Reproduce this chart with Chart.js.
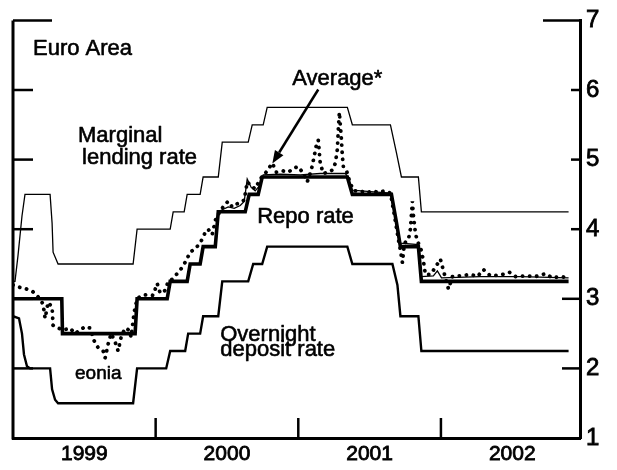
<!DOCTYPE html>
<html><head><meta charset="utf-8">
<script src="https://cdn.jsdelivr.net/npm/chart.js@4.4.0/dist/chart.umd.min.js"></script>
<style>html,body{margin:0;padding:0;background:#fff;}canvas{display:block}</style>
</head><body>
<canvas id="c" width="617" height="470"></canvas>
<script>
// ---- data (time in decimal years, rates in %) ----
const yearLabels = ['1999','2000','2001','2002'];
const rateTicks = [1,2,3,4,5,6,7];

const marginalT = [1999.000,1999.014,1999.035,1999.063,1999.084,1999.260,1999.274,1999.281,1999.316,1999.842,1999.870,2000.102,2000.123,2000.200,2000.221,2000.312,2000.333,2000.439,2000.467,2000.649,2000.677,2000.754,2000.782,2001.344,2001.379,2001.646,2001.688,2001.723,2001.842,2001.863,2002.895];
const marginalV = [3.25,3.25,3.62,4.19,4.50,4.50,4.09,3.67,3.50,3.50,4.00,4.00,4.25,4.25,4.50,4.50,4.75,4.75,5.25,5.25,5.50,5.50,5.75,5.75,5.50,5.50,5.10,4.75,4.75,4.25,4.25];

const depositT = [1999.000,1999.042,1999.063,1999.077,1999.098,1999.120,1999.260,1999.274,1999.295,1999.316,1999.842,1999.870,2000.074,2000.102,2000.207,2000.228,2000.312,2000.333,2000.439,2000.467,2000.649,2000.684,2000.747,2000.782,2001.344,2001.379,2001.660,2001.695,2001.716,2001.842,2001.863,2002.895];
const depositV = [2.75,2.72,2.50,2.20,2.03,2.00,2.00,1.70,1.55,1.50,1.50,2.00,2.00,2.25,2.25,2.50,2.50,2.75,2.75,3.25,3.25,3.50,3.50,3.75,3.75,3.50,3.50,3.20,2.75,2.75,2.25,2.25];

const repoT = [1999.000,1999.342,1999.347,1999.856,1999.870,2000.081,2000.102,2000.221,2000.242,2000.312,2000.333,2000.418,2000.439,2000.628,2000.656,2000.719,2000.747,2001.344,2001.379,2001.653,2001.688,2001.716,2001.842,2001.863,2002.895];
const repoV = [3.00,3.00,2.50,2.50,3.00,3.00,3.25,3.25,3.50,3.50,3.75,3.75,4.25,4.25,4.50,4.50,4.75,4.75,4.50,4.50,4.10,3.75,3.75,3.25,3.25];

const averageT = [2000.439,2000.467,2000.509,2000.551,2000.593,2000.621,2000.642,2000.670,2000.698,2000.726,2000.754,2000.874,2001.014,2001.154,2001.330,2001.351,2001.379,2001.505,2001.646,2001.681,2001.716,2001.842,2001.863,2001.947,2001.975,2002.004,2002.277,2002.558,2002.895];
const averageV = [4.25,4.28,4.32,4.30,4.34,4.40,4.72,4.60,4.55,4.62,4.78,4.79,4.78,4.80,4.80,4.74,4.56,4.54,4.52,4.15,3.80,3.78,3.32,3.33,3.40,3.30,3.32,3.32,3.30];

const eoniaT = [1999.000,1999.035,1999.084,1999.140,1999.189,1999.211,1999.225,1999.246,1999.274,1999.281,1999.316,1999.351,1999.400,1999.435,1999.470,1999.505,1999.540,1999.568,1999.596,1999.632,1999.646,1999.667,1999.688,1999.716,1999.737,1999.758,1999.786,1999.814,1999.828,1999.849,1999.870,1999.905,1999.947,1999.982,2000.011,2000.032,2000.067,2000.088,2000.116,2000.158,2000.186,2000.214,2000.242,2000.277,2000.312,2000.347,2000.368,2000.396,2000.425,2000.453,2000.481,2000.509,2000.537,2000.565,2000.593,2000.621,2000.642,2000.670,2000.698,2000.733,2000.775,2000.818,2000.846,2000.888,2000.930,2000.972,2001.000,2001.035,2001.063,2001.091,2001.112,2001.126,2001.140,2001.154,2001.175,2001.211,2001.239,2001.260,2001.274,2001.281,2001.288,2001.302,2001.309,2001.316,2001.337,2001.365,2001.393,2001.435,2001.477,2001.519,2001.561,2001.604,2001.646,2001.674,2001.702,2001.716,2001.730,2001.744,2001.772,2001.786,2001.800,2001.807,2001.821,2001.835,2001.856,2001.877,2001.891,2001.926,2001.961,2001.996,2002.025,2002.053,2002.081,2002.137,2002.207,2002.256,2002.298,2002.347,2002.418,2002.481,2002.523,2002.593,2002.663,2002.733,2002.782,2002.839,2002.895];
const eoniaV = [3.20,3.17,3.15,3.10,3.00,2.92,2.72,2.95,2.88,2.62,2.58,2.55,2.58,2.50,2.55,2.60,2.58,2.40,2.30,2.25,2.15,2.35,2.50,2.38,2.25,2.45,2.58,2.55,2.45,2.80,3.00,3.05,3.06,3.05,3.22,3.08,3.12,3.25,3.28,3.38,3.45,3.55,3.67,3.72,3.80,3.95,4.00,3.92,4.18,4.25,4.35,4.40,4.32,4.36,4.38,4.42,4.68,4.62,4.58,4.72,4.82,4.95,4.82,4.84,4.82,4.88,4.90,4.80,4.68,4.85,5.05,5.20,5.28,4.95,4.80,4.82,4.85,4.95,5.15,5.45,5.68,5.30,5.05,4.90,4.85,4.65,4.55,4.55,4.52,4.55,4.53,4.55,4.52,4.20,3.85,3.70,3.52,3.80,3.85,4.00,4.40,4.20,3.95,3.82,3.75,3.55,3.35,3.35,3.45,3.57,3.35,3.14,3.32,3.33,3.35,3.32,3.42,3.33,3.34,3.38,3.32,3.33,3.32,3.36,3.30,3.32,3.30];

// ---- rendering ----
const FONT = "'Liberation Sans', Arial, Helvetica, sans-serif";
const pts = (t, v) => t.map((x, i) => ({x, y: v[i]}));

const framePlugin = {
  id: 'frame',
  afterDraw(chart) {
    const {ctx, chartArea: a, scales: {x, y}} = chart;
    ctx.save();
    ctx.strokeStyle = '#000';
    ctx.lineCap = 'butt';
    ctx.lineWidth = 3;
    ctx.beginPath(); ctx.moveTo(a.left, a.top); ctx.lineTo(a.left, a.bottom + 1.5); ctx.stroke();
    ctx.lineWidth = 2.5;
    rateTicks.forEach(v => {
      if (v === 1) return;
      const py = y.getPixelForValue(v);
      const l = v === 7 ? 39 : 20;
      const r = v === 7 ? 37 : (v <= 3 ? 18 : 9);
      ctx.beginPath(); ctx.moveTo(a.left, py); ctx.lineTo(a.left + l, py); ctx.stroke();
      ctx.beginPath(); ctx.moveTo(a.right, py); ctx.lineTo(a.right - r, py); ctx.stroke();
    });
    yearLabels.slice(1).forEach(lbl => {
      const px = x.getPixelForValue(+lbl);
      ctx.beginPath(); ctx.moveTo(px, a.bottom); ctx.lineTo(px, a.bottom - 20); ctx.stroke();
    });
    // annotations
    ctx.fillStyle = '#000';
    ctx.textAlign = 'left';
    ctx.textBaseline = 'alphabetic';
    ctx.lineWidth = 0.6;
    ctx.lineJoin = 'round';
    const notes = [
      ['Euro Area', 1999.14, 6.50, 22],
      ['Marginal', 1999.456, 5.255, 22],
      ['lending rate', 1999.484, 4.93, 22],
      ['Average*', 2000.958, 6.078, 22],
      ['Repo rate', 2000.712, 4.09, 22],
      ['Overnight', 2000.453, 2.39, 22],
      ['deposit rate', 2000.453, 2.18, 22],
      ['eonia', 1999.435, 1.85, 19]
    ];
    notes.forEach(([txt, t, v, s]) => {
      ctx.font = s + 'px ' + FONT;
      const px = x.getPixelForValue(t), py = y.getPixelForValue(v);
      ctx.fillText(txt, px, py);
      ctx.strokeText(txt, px, py);
    });
    // arrow
    const x0 = x.getPixelForValue(2001.140), y0 = y.getPixelForValue(6.007);
    const x1 = x.getPixelForValue(2000.818), y1 = y.getPixelForValue(4.943);
    const ang = Math.atan2(y1 - y0, x1 - x0);
    const hl = 13, hw = 5;
    const bx = x1 - hl * Math.cos(ang), by = y1 - hl * Math.sin(ang);
    ctx.lineWidth = 2.5;
    ctx.beginPath(); ctx.moveTo(x0, y0); ctx.lineTo(bx, by); ctx.stroke();
    ctx.beginPath();
    ctx.moveTo(x1, y1);
    ctx.lineTo(bx + hw * Math.sin(ang), by - hw * Math.cos(ang));
    ctx.lineTo(bx - hw * Math.sin(ang), by + hw * Math.cos(ang));
    ctx.closePath(); ctx.fill();
    ctx.restore();
  }
};

const base = {borderColor: '#000', pointRadius: 0, tension: 0, fill: false};
new Chart(document.getElementById('c'), {
  type: 'line',
  data: {
    datasets: [
      Object.assign({label: 'eonia', data: pts(eoniaT, eoniaV), borderWidth: 3.8, borderDash: [0.1, 7], borderCapStyle: 'round'}, base),
      Object.assign({label: 'Average*', data: pts(averageT, averageV), borderWidth: 1.3}, base),
      Object.assign({label: 'Marginal lending rate', data: pts(marginalT, marginalV), borderWidth: 1.3}, base),
      Object.assign({label: 'Overnight deposit rate', data: pts(depositT, depositV), borderWidth: 2.4}, base),
      Object.assign({label: 'Repo rate', data: pts(repoT, repoV), borderWidth: 3.6}, base)
    ]
  },
  options: {
    responsive: false,
    animation: false,
    devicePixelRatio: 1,
    layout: {padding: {left: 13, top: 15, right: 0, bottom: 0}},
    plugins: {legend: {display: false}, tooltip: {enabled: false}},
    scales: {
      x: {
        type: 'linear', position: 'bottom', min: 1999, max: 2002.975,
        afterBuildTicks: s => { s.ticks = yearLabels.map((l, i) => ({value: 1999.5 + i})); },
        afterFit: s => { s.height = 32; },
        ticks: {callback: (v, i) => yearLabels[i], font: {family: FONT, size: 21}, color: '#000', padding: 4, maxRotation: 0, autoSkip: false, textStrokeColor: '#000', textStrokeWidth: 0.8},
        grid: {display: false, drawTicks: false},
        border: {display: true, width: 3, color: '#000'}
      },
      y: {
        type: 'linear', position: 'right', min: 1, max: 7,
        afterBuildTicks: s => { s.ticks = rateTicks.map(v => ({value: v})); },
        afterFit: s => { s.width = 37; },
        ticks: {font: {family: FONT, size: 24}, color: '#000', padding: 6, textStrokeColor: '#000', textStrokeWidth: 0.8},
        grid: {display: false, drawTicks: false},
        border: {display: true, width: 3, color: '#000'}
      }
    }
  },
  plugins: [framePlugin]
});
</script>
</body></html>
